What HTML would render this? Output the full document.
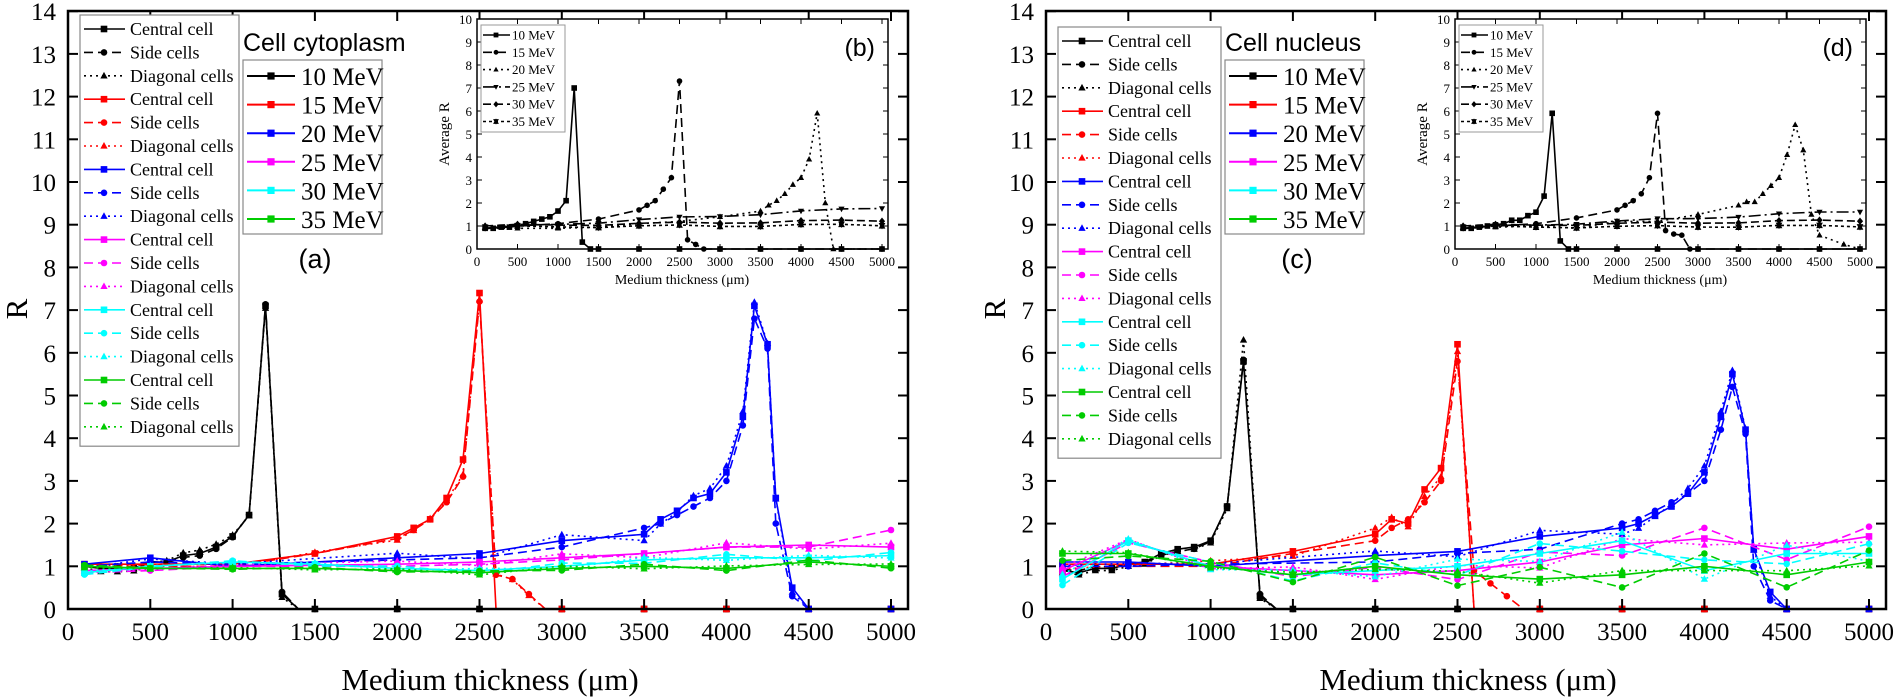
<!DOCTYPE html>
<html><head><meta charset="utf-8">
<style>
html,body{margin:0;padding:0;background:#fff;}
svg{display:block;}
text{font-family:"Liberation Serif",serif;}
.sans{font-family:"Liberation Sans","DejaVu Sans",sans-serif;}
</style></head>
<body>
<svg id="s" width="1895" height="699" viewBox="0 0 1895 699" xmlns="http://www.w3.org/2000/svg"></svg>
<script>
const S=document.getElementById('s');
let out='';
function add(s){out+=s;}
const COL=['#000','#f00','#00f','#f0f','#0ff','#0c0'];
const EN=['10','15','20','25','30','35'];
function seg(arr){return arr.map((p,i)=>(i?'L':'M')+p[0].toFixed(1)+','+p[1].toFixed(1)).join('');}
function marker(t,x,y,c,r){
 if(t==='sq')return `<rect x="${x-r}" y="${y-r}" width="${2*r}" height="${2*r}" fill="${c}"/>`;
 if(t==='ci')return `<circle cx="${x}" cy="${y}" r="${r}" fill="${c}"/>`;
 if(t==='tr')return `<polygon points="${x},${y-r*1.2} ${x-r*1.1},${y+r*0.8} ${x+r*1.1},${y+r*0.8}" fill="${c}"/>`;
 if(t==='itr')return `<polygon points="${x},${y+r*1.2} ${x-r*1.1},${y-r*0.8} ${x+r*1.1},${y-r*0.8}" fill="${c}"/>`;
 if(t==='di')return `<polygon points="${x},${y-r*1.3} ${x-r*1.1},${y} ${x},${y+r*1.3} ${x+r*1.1},${y}" fill="${c}"/>`;
 if(t==='st')return `<polygon points="${x},${y-r*1.3} ${x-r*1.2},${y+r} ${x+r*1.2},${y+r}" fill="${c}"/><polygon points="${x},${y+r*1.3} ${x-r*1.2},${y-r} ${x+r*1.2},${y-r}" fill="${c}"/>`;
 return '';
}
const DASH=['','9,5','2,4'];
const MK=['sq','ci','tr'];

function mainPanel(ox,title,lab,data,legTop,legX2){
 const X=x=>ox+68+x*(823/5000), Y=r=>609-r*42.7;
 data.forEach((d,ci)=>{
  d.forEach((pts,vi)=>{
   const arr=pts.map(p=>[X(p[0]),Y(p[1])]);
   add(`<path d="${seg(arr)}" fill="none" stroke="${COL[ci]}" stroke-width="1.6" stroke-dasharray="${DASH[vi]}"/>`);
   pts.forEach(p=>{ if(p[1]>0.05||p[0]%500===0) add(marker(MK[vi],X(p[0]),Y(p[1]),COL[ci],3.3)); });
  });
 });
 add(`<rect x="${ox+68}" y="11" width="${840}" height="598" fill="none" stroke="#000" stroke-width="2.5"/>`);
 for(let r=0;r<=14;r++){const y=Y(r);
  add(`<line x1="${ox+68}" y1="${y}" x2="${ox+78}" y2="${y}" stroke="#000" stroke-width="2"/><line x1="${ox+908}" y1="${y}" x2="${ox+898}" y2="${y}" stroke="#000" stroke-width="2"/>`);
  add(`<text x="${ox+56}" y="${y+9}" font-size="25" text-anchor="end">${r}</text>`);}
 for(let x=0;x<=5000;x+=500){const xx=X(x);
  add(`<line x1="${xx}" y1="609" x2="${xx}" y2="599" stroke="#000" stroke-width="2"/><line x1="${xx}" y1="11" x2="${xx}" y2="21" stroke="#000" stroke-width="2"/>`);
  add(`<text x="${xx}" y="640" font-size="25" text-anchor="middle">${x}</text>`);}
 add(`<text x="${ox+490}" y="690" font-size="31" text-anchor="middle">Medium thickness (μm)</text>`);
 add(`<text transform="translate(${ox+27},309) rotate(-90)" font-size="31" text-anchor="middle">R</text>`);
 const lx=ox+80, lt=legTop;
 add(`<rect x="${lx}" y="${lt}" width="${legX2-80}" height="${18*23.4+10}" fill="#fff" stroke="#888" stroke-width="1.2"/>`);
 const names=['Central cell','Side cells','Diagonal cells'];
 for(let i=0;i<18;i++){const ci=Math.floor(i/3),vi=i%3,y=lt+14+i*23.4;
  add(`<line x1="${lx+4}" y1="${y}" x2="${lx+45}" y2="${y}" stroke="${COL[ci]}" stroke-width="1.6" stroke-dasharray="${DASH[vi]}"/>`);
  add(marker(MK[vi],lx+24,y,COL[ci],3.3));
  add(`<text x="${lx+50}" y="${y+6}" font-size="18">${names[vi]}</text>`);}
 const ex=ox+legX2+4;
 add(`<text class="sans" x="${ex}" y="51" font-size="25">${title}</text>`);
 add(`<rect x="${ex}" y="60" width="139" height="174" fill="#fff" stroke="#888" stroke-width="1.2"/>`);
 for(let i=0;i<6;i++){const y=76+i*28.6;
  add(`<line x1="${ex+4}" y1="${y}" x2="${ex+52}" y2="${y}" stroke="${COL[i]}" stroke-width="2"/>`);
  add(marker('sq',ex+28,y,COL[i],3.6));
  add(`<text x="${ex+58}" y="${y+9}" font-size="25">${EN[i]} MeV</text>`);}
 add(`<text class="sans" x="${ex+72}" y="268" font-size="27" text-anchor="middle">${lab}</text>`);
}

function inset(ox,lab,data){
 const x0=ox+477, W=411, X=x=>x0+x*(405/5000), Y=r=>249-r*23;
 add(`<rect x="${x0}" y="19" width="${W}" height="230" fill="#fff"/>`);
 const MI=['sq','ci','tr','itr','di','st'];
 const DI=['','9,5','2,4','12,4,2,4','8,4','3,3'];
 data.forEach((pts,i)=>{
  const arr=pts.map(p=>[X(p[0]),Y(p[1])]);
  add(`<path d="${seg(arr)}" fill="none" stroke="#000" stroke-width="1.6" stroke-dasharray="${DI[i]}"/>`);
  pts.forEach(p=>add(marker(MI[i],X(p[0]),Y(p[1]),'#000',2.8)));
 });
 add(`<rect x="${x0}" y="19" width="${W}" height="230" fill="none" stroke="#000" stroke-width="1.5"/>`);
 for(let r=0;r<=10;r++){const y=Y(r);
  add(`<line x1="${x0}" y1="${y}" x2="${x0+5}" y2="${y}" stroke="#000"/><line x1="${x0+W}" y1="${y}" x2="${x0+W-5}" y2="${y}" stroke="#000"/>`);
  add(`<text x="${x0-5}" y="${y+5}" font-size="13" text-anchor="end">${r}</text>`);}
 for(let x=0;x<=5000;x+=500){const xx=X(x);
  add(`<line x1="${xx}" y1="249" x2="${xx}" y2="244" stroke="#000"/><line x1="${xx}" y1="19" x2="${xx}" y2="24" stroke="#000"/>`);
  add(`<text x="${xx}" y="266" font-size="13" text-anchor="middle">${x}</text>`);}
 add(`<text x="${x0+205}" y="284" font-size="14" text-anchor="middle">Medium thickness (μm)</text>`);
 add(`<text transform="translate(${x0-28},134) rotate(-90)" font-size="15" text-anchor="middle">Average R</text>`);
 add(`<rect x="${x0+4}" y="25" width="84" height="107" fill="#fff" stroke="#999"/>`);
 for(let i=0;i<6;i++){const y=35+i*17.3;
  add(`<line x1="${x0+6}" y1="${y}" x2="${x0+33}" y2="${y}" stroke="#000" stroke-width="1.6" stroke-dasharray="${DI[i]}"/>`);
  add(marker(MI[i],x0+19,y,'#000',2.4));
  add(`<text x="${x0+35}" y="${y+4.5}" font-size="13">${EN[i]} MeV</text>`);}
 add(`<text class="sans" x="${x0+398}" y="56" font-size="25" text-anchor="end">${lab}</text>`);
}
function R(a,b,s,f){const r=[];for(let x=a;x<=b;x+=s)r.push([x,f(x)]);return r;}
function v(pts,dy){return pts.map(p=>[p[0],Math.max(0,p[1]+(p[1]>0?dy(p[0]):0))]);}
const Z=a=>{const r=[];for(let x=a;x<=5000;x+=500)r.push([x,0]);return r;};

const c10=[[100,1.0],[200,0.95],[300,0.95],[400,0.95],[500,1.1],[600,1.1],[700,1.25],[800,1.3],[900,1.45],[1000,1.7],[1100,2.2],[1200,7.1],[1300,0.35],[1400,0],[1500,0],[2000,0],[2500,0],[3000,0],[3500,0],[4000,0],[4500,0],[5000,0]];
const c15=[[100,1.05],[1000,1.05],[1500,1.3],[2000,1.7],[2100,1.9],[2200,2.1],[2300,2.6],[2400,3.5],[2500,7.4],[2600,0],[3000,0],[3500,0],[4000,0],[4500,0],[5000,0]];
const c15s=[[100,1.0],[1000,1.0],[1500,1.3],[2000,1.65],[2100,1.85],[2200,2.1],[2300,2.5],[2400,3.1],[2500,7.2],[2600,0.8],[2700,0.7],[2800,0.35],[2900,0],[3000,0],[3500,0],[4000,0],[4500,0],[5000,0]];
const c20=[[100,1.05],[500,1.2],[1000,1.0],[2000,1.2],[2500,1.3],[3000,1.6],[3500,1.75],[3600,2.1],[3700,2.3],[3800,2.6],[3900,2.7],[4000,3.2],[4100,4.5],[4170,7.1],[4250,6.2],[4300,2.6],[4400,0.5],[4500,0],[5000,0]];
const c20d=[[100,1.0],[500,1.1],[1000,1.05],[2000,1.15],[2500,1.2],[3000,1.45],[3500,1.9],[3600,2.0],[3700,2.2],[3800,2.4],[3900,2.6],[4000,3.0],[4100,4.3],[4170,6.8],[4250,6.1],[4300,2.0],[4400,0.3],[4500,0],[5000,0]];
const c25=[[100,0.9],[500,0.95],[1000,1.0],[2000,1.05],[2500,1.1],[3000,1.2],[3500,1.3],[4000,1.45],[4500,1.5],[5000,1.45]];
const c25s=[[100,0.85],[500,0.9],[1000,1.0],[2000,1.0],[2500,1.05],[3000,1.15],[3500,1.3],[4000,1.45],[4500,1.45],[5000,1.85]];
const c30=[[100,0.85],[500,1.0],[1000,1.1],[1500,1.05],[2000,0.95],[2500,0.9],[3000,1.0],[3500,1.15],[4000,1.2],[4500,1.2],[5000,1.25]];
const c35=[[100,1.0],[500,0.95],[1000,0.95],[1500,0.95],[2000,0.9],[2500,0.85],[3000,0.95],[3500,1.0],[4000,0.95],[4500,1.1],[5000,1.0]];
const jit=k=>(x=>k*Math.sin(x/170));
const dA=[
 [c10,v(c10,jit(0.05)),v(c10,jit(-0.08))],
 [c15,c15s,v(c15s,jit(0.05))],
 [c20,c20d,v(c20,jit(-0.15))],
 [c25,c25s,v(c25,jit(-0.1))],
 [c30,v(c30,jit(-0.08)),v(c30,jit(0.06))],
 [c35,v(c35,jit(0.05)),v(c35,jit(-0.06))]
];
const n10=[[100,0.9],[200,0.85],[300,0.95],[400,0.95],[500,1.05],[600,1.1],[700,1.3],[800,1.4],[900,1.45],[1000,1.6],[1100,2.4],[1200,5.8],[1300,0.3],[1400,0],[1500,0],[2000,0],[2500,0],[3000,0],[3500,0],[4000,0],[4500,0],[5000,0]];
const n15=[[100,1.05],[1000,1.05],[1500,1.35],[2000,1.75],[2100,2.1],[2200,2.0],[2300,2.8],[2400,3.3],[2500,6.2],[2600,0],[3000,0],[3500,0],[4000,0],[4500,0],[5000,0]];
const n15s=[[100,1.0],[1000,1.0],[1500,1.3],[2000,1.6],[2100,1.9],[2200,2.1],[2300,2.5],[2400,3.0],[2500,5.8],[2600,0.9],[2700,0.6],[2800,0.3],[2900,0],[3000,0],[3500,0],[4000,0],[4500,0],[5000,0]];
const n20=[[100,1.1],[500,1.1],[1000,1.0],[2000,1.25],[2500,1.35],[3000,1.7],[3500,1.9],[3600,2.0],[3700,2.2],[3800,2.4],[3900,2.7],[4000,3.2],[4100,4.5],[4170,5.5],[4250,4.2],[4300,1.4],[4400,0.4],[4500,0],[5000,0]];
const n20s=[[100,1.0],[500,1.0],[1000,1.05],[2000,1.1],[2500,1.3],[3000,1.4],[3500,2.0],[3600,2.1],[3700,2.3],[3800,2.5],[3900,2.7],[4000,3.0],[4100,4.2],[4170,5.2],[4250,4.1],[4300,1.0],[4400,0.2],[4500,0],[5000,0]];
const n25=[[100,0.9],[500,1.6],[1000,1.0],[1500,0.9],[2000,0.8],[2500,0.9],[3000,1.1],[3500,1.5],[4000,1.65],[4500,1.4],[5000,1.7]];
const n30=[[100,0.7],[500,1.6],[1000,1.0],[1500,0.8],[2000,0.9],[2500,1.0],[3000,1.3],[3500,1.6],[4000,0.9],[4500,1.3],[5000,1.3]];
const n35=[[100,1.3],[500,1.3],[1000,1.0],[1500,0.8],[2000,1.0],[2500,0.8],[3000,0.7],[3500,0.8],[4000,1.0],[4500,0.8],[5000,1.1]];
const dB=[
 [n10,v(n10,jit(0.05)),v(n10,x=>x===1200?0.5:-0.05)],
 [n15,n15s,v(n15,jit(-0.2))],
 [n20,n20s,v(n20,jit(-0.15))],
 [n25,v(n25,jit(-0.25)),v(n25,jit(0.15))],
 [n30,v(n30,jit(-0.25)),v(n30,jit(0.2))],
 [n35,v(n35,jit(-0.3)),v(n35,jit(0.1))]
];
const flat=(a,b)=>[[100,a]].concat(R(500,5000,500,x=>a+(b-a)*x/5000+0.05*Math.sin(x/300)));
const iA=[
 [[100,0.9],[200,0.9],[300,0.95],[400,0.95],[500,1.0],[600,1.1],[700,1.2],[800,1.3],[900,1.4],[1000,1.65],[1100,2.1],[1200,7.0],[1300,0.3],[1400,0]].concat(Z(1500)),
 [[100,0.9],[500,1.0],[1000,1.1],[1500,1.3],[2000,1.7],[2100,1.9],[2200,2.1],[2300,2.6],[2400,3.1],[2500,7.3],[2600,0.4],[2700,0.2],[2800,0]].concat(Z(3000)),
 [[100,0.9],[500,0.9],[1000,0.9],[1500,0.95],[2000,1.1],[2500,1.2],[3000,1.4],[3500,1.65],[3600,1.9],[3700,2.1],[3800,2.4],[3900,2.8],[4000,3.1],[4100,3.9],[4200,5.9],[4300,2.0],[4400,0]].concat(Z(4500)),
 flat(0.9,1.8),flat(1.0,1.25),flat(0.95,1.05)
];
const iB=[
 [[100,0.9],[200,0.9],[300,0.95],[400,1.0],[500,1.05],[600,1.1],[700,1.25],[800,1.25],[900,1.45],[1000,1.6],[1100,2.3],[1200,5.9],[1300,0.35],[1400,0]].concat(Z(1500)),
 [[100,0.9],[500,1.0],[1000,1.1],[1500,1.35],[2000,1.7],[2100,1.9],[2200,2.1],[2300,2.4],[2400,3.1],[2500,5.9],[2600,0.8],[2700,0.65],[2800,0.6],[2900,0]].concat(Z(3000)),
 [[100,0.9],[500,0.95],[1000,1.0],[1500,0.9],[2000,1.2],[2500,1.2],[3000,1.5],[3500,1.9],[3600,2.05],[3700,2.05],[3800,2.4],[3900,2.75],[4000,3.1],[4100,4.1],[4200,5.4],[4300,4.3],[4400,1.5],[4500,0.6],[4800,0.2],[5000,0]],
 flat(0.9,1.65),flat(1.0,1.25),flat(0.95,1.0)
];
mainPanel(0,'Cell cytoplasm','(a)',dA,15,239);
inset(0,'(b)',iA);
mainPanel(978,'Cell nucleus','(c)',dB,27,243);
inset(978,'(d)',iB);
S.innerHTML=out;
</script>
</body></html>
